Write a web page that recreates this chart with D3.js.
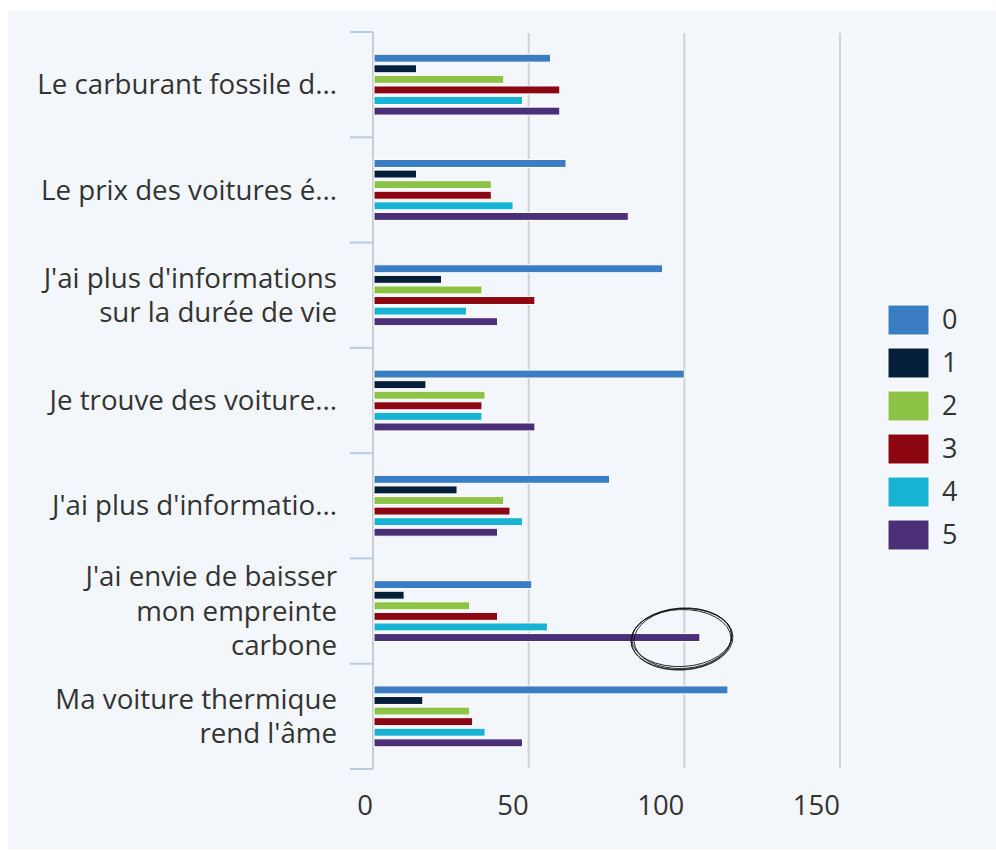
<!DOCTYPE html>
<html>
<head>
<meta charset="utf-8">
<script src="https://cdn.jsdelivr.net/npm/d3@7/dist/d3.min.js"></script>
<style>
  html, body { margin: 0; padding: 0; background: #ffffff; }
  svg { display: block; }
  text { font-family: "Open Sans", "Noto Sans", sans-serif; }
</style>
</head>
<body>
<svg id="chart" width="996" height="850"></svg>
<script>
// ---- data ----
const categories = [
  "Le carburant fossile d...",
  "Le prix des voitures é...",
  "J'ai plus d'informations\nsur la durée de vie",
  "Je trouve des voiture...",
  "J'ai plus d'informatio...",
  "J'ai envie de baisser\nmon empreinte\ncarbone",
  "Ma voiture thermique\nrend l'âme"
];
const seriesNames = ["0", "1", "2", "3", "4", "5"];
const series0 = [57, 62, 93, 100, 76, 51, 114];
const series1 = [14, 14, 22, 17, 27, 10, 16];
const series2 = [42, 38, 35, 36, 42, 31, 31];
const series3 = [60, 38, 52, 35, 44, 40, 32];
const series4 = [48, 45, 30, 35, 48, 56, 36];
const series5 = [60, 82, 40, 52, 40, 105, 48];
const seriesValues = [series0, series1, series2, series3, series4, series5];
const colors = ["#3a7dc2", "#051e3a", "#8dc447", "#8c0711", "#17b3d4", "#4b2f78"];
const xTicks = [0, 50, 100, 150];
// annotated bar (hand-drawn circle): category index 5, series "5"
const annotated = { cat: 5, series: 5 };

// ---- layout ----
const svg = d3.select("#chart");
svg.append("rect").attr("x", 8).attr("y", 11).attr("width", 988).attr("height", 838)
  .attr("fill", "#f3f7fb");

const x = d3.scaleLinear().domain([0, 150]).range([373, 840]);
const y0 = d3.scaleBand().domain(categories).range([32, 769]).paddingInner(0).paddingOuter(0);
const y1 = d3.scaleBand().domain(seriesNames).range([0, y0.bandwidth()])
  .paddingInner(0.25).paddingOuter(2.1);

// gridlines
svg.append("g").selectAll("line").data(xTicks.filter(d => d > 0)).join("line")
  .attr("x1", d => x(d)).attr("x2", d => x(d))
  .attr("y1", 33).attr("y2", 768)
  .attr("stroke", "#cfd1d4").attr("stroke-width", 2);

// category axis line
svg.append("line").attr("x1", x(0)).attr("x2", x(0)).attr("y1", 32).attr("y2", 769)
  .attr("stroke", "#c9ccd1").attr("stroke-width", 2);

// category ticks (band boundaries)
const bounds = categories.map(c => y0(c)).concat([y0.range()[1]]);
svg.append("g").selectAll("line").data(bounds).join("line")
  .attr("x1", 350).attr("x2", x(0))
  .attr("y1", d => d).attr("y2", d => d)
  .attr("stroke", "#b9cde2").attr("stroke-width", 2);

// bars
const groups = svg.append("g").selectAll("g").data(categories).join("g")
  .attr("transform", c => `translate(0,${y0(c)})`);
groups.selectAll("rect").data((c, i) => seriesNames.map((s, j) => ({ s, j, v: seriesValues[j][i] })))
  .join("rect")
  .attr("x", x(0) + 1)
  .attr("y", d => y1(d.s))
  .attr("width", d => x(d.v) - x(0) - 1)
  .attr("height", y1.bandwidth())
  .attr("fill", d => colors[d.j])
  .attr("stroke", "#ffffff").attr("stroke-width", 1);

// category labels
const labG = svg.append("g");
categories.forEach(c => {
  const lines = c.split("\n");
  const cy = y0(c) + y0.bandwidth() / 2;
  const lh = 34.5;
  const t = labG.append("text").attr("text-anchor", "end")
    .attr("font-size", 27.7).attr("fill", "#333333");
  lines.forEach((ln, k) => {
    t.append("tspan").attr("x", 337)
      .attr("y", cy + (k - (lines.length - 1) / 2) * lh)
      .attr("dy", "0.35em").text(ln);
  });
});

// x tick labels
svg.append("g").selectAll("text").data(xTicks).join("text")
  .attr("x", d => x(d)).attr("y", 815)
  .attr("text-anchor", "end").attr("font-size", 27.5).attr("fill", "#333333")
  .text(d => d);

// legend
const leg = svg.append("g");
seriesNames.forEach((s, j) => {
  const yy = 305 + j * 43;
  leg.append("rect").attr("x", 888).attr("y", yy).attr("width", 41).attr("height", 30)
    .attr("fill", colors[j]).attr("stroke", "#ffffff").attr("stroke-width", 1);
  leg.append("text").attr("x", 942).attr("y", yy + 15).attr("dy", "0.35em")
    .attr("font-size", 27).attr("fill", "#333333").text(s);
});

// hand-drawn annotation ellipse around the annotated bar end
const aCat = categories[annotated.cat];
const ax = x(seriesValues[annotated.series][annotated.cat]) - 18;
const ay = y0(aCat) + y1(seriesNames[annotated.series]) + y1.bandwidth() / 2;
const ann = svg.append("g").attr("fill", "none").attr("stroke", "#1a1a1a").attr("stroke-width", 0.9);
[[0, 0, 50, 29, -3], [1, 1, 49, 30, -4], [-1, 2, 50, 30, -2], [0, 1.5, 51, 31, -3.5]].forEach(p => {
  ann.append("ellipse").attr("cx", ax + p[0]).attr("cy", ay + p[1])
    .attr("rx", p[2]).attr("ry", p[3])
    .attr("transform", `rotate(${p[4]},${ax},${ay})`);
});
</script>
</body>
</html>
